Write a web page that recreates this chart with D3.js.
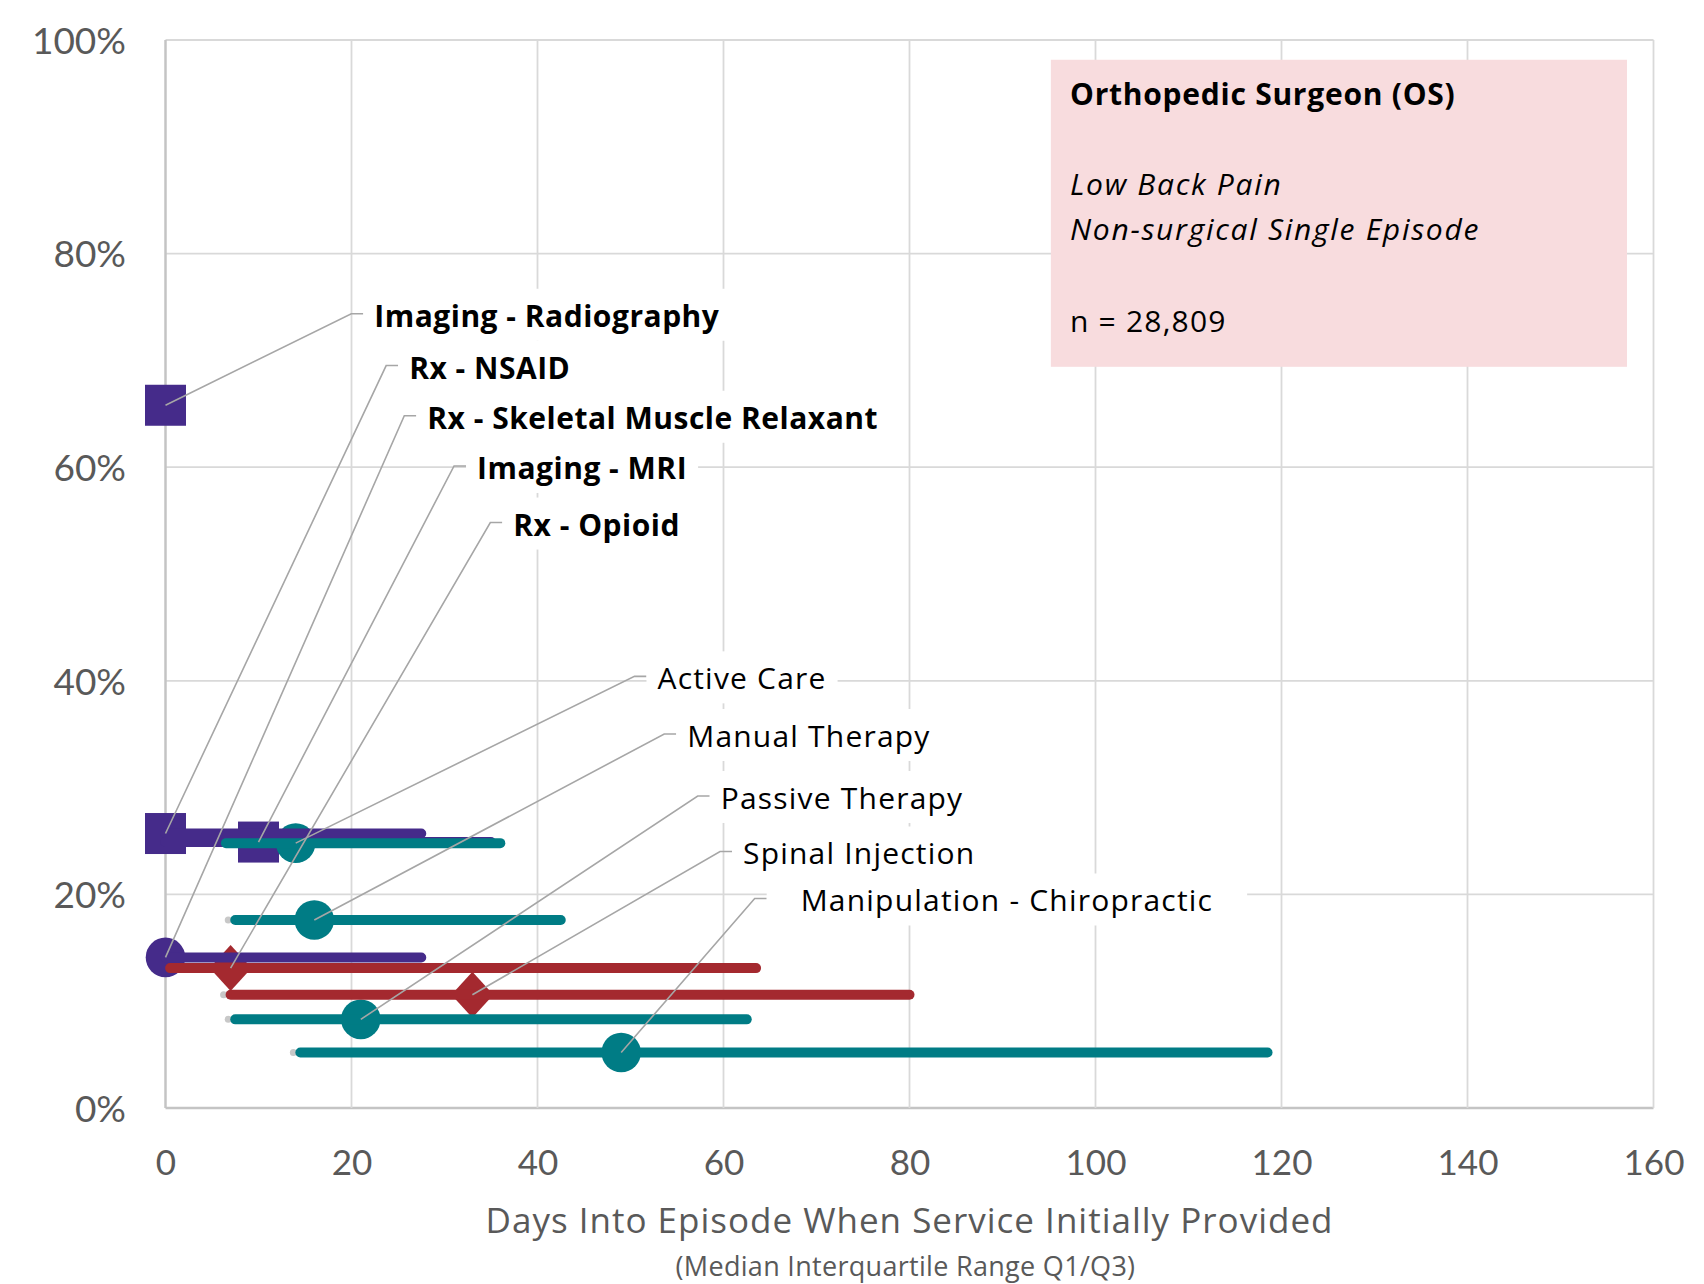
<!DOCTYPE html>
<html>
<head>
<meta charset="utf-8">
<script src="https://cdn.jsdelivr.net/npm/d3@7"></script>
<style>
  body { margin: 0; background: #fff; }
  svg { display: block; font-family: "Open Sans", Lato, sans-serif; }
</style>
</head>
<body>
<div id="chart"></div>
<script>
// services, in the order Excel drew them
const services = ["Imaging - Radiography", "Rx - NSAID", "Rx - Skeletal Muscle Relaxant", "Imaging - MRI", "Rx - Opioid",
                  "Active Care", "Manual Therapy", "Passive Therapy", "Spinal Injection", "Manipulation - Chiropractic"];
const pctPatients = [65.8, 25.7, 14.1, 24.9, 13.1, 24.8, 17.6, 8.3, 10.6, 5.2];   // % of episodes with service
const medianDays = [0, 0, 0, 10, 7, 14, 16, 21, 33, 49];
const q1Days     = [0, 0, 0, 0, 0.5, 6.5, 7.5, 7.5, 7, 14.5];
const q3Days     = [0, 27.5, 27.5, 35, 63.5, 36, 42.5, 62.5, 80, 118.5];
const groups     = ["purple", "purple", "purple", "purple", "red", "teal", "teal", "teal", "red", "teal"];
const markers    = ["square", "square", "circle", "square", "diamond", "circle", "circle", "circle", "diamond", "circle"];
const boldLabel  = [true, true, true, true, true, false, false, false, false, false];

const xTicks = [0, 20, 40, 60, 80, 100, 120, 140, 160];
const yTicks = [0, 20, 40, 60, 80, 100];

const infoLines = ["Orthopedic Surgeon (OS)", "", "Low Back Pain", "Non-surgical Single Episode", "", "n = 28,809"];

// label anchors in data units (days, %) - where the text starts / sits on its baseline
const labelDays = [22.45, 26.2, 28.15, 33.5, 37.4, 52.9, 56.1, 59.7, 62.1, 68.3];
const labelPct  = [73.15, 68.3, 63.6, 58.9, 53.6, 39.2, 33.8, 28.0, 22.8, 18.4];
const labelGap  = [11, 11, 11, 11, 11, 11, 11, 11, 11, 34];

const colors = {purple: "#452b8a", red: "#a4292f", teal: "#007c85"};

const W = 1704, H = 1284;
const svg = d3.select("#chart").append("svg").attr("width", W).attr("height", H);

const x = d3.scaleLinear().domain([0, 160]).range([165.5, 1653.5]);
const y = d3.scaleLinear().domain([0, 100]).range([1108, 40]);

// grid
const grid = svg.append("g");
grid.selectAll(".hgrid").data(yTicks).enter().append("line")
    .attr("x1", x(0)).attr("x2", x(160))
    .attr("y1", d => y(d)).attr("y2", d => y(d))
    .attr("stroke", d => d === 0 ? "#c4c4c4" : "#d9d9d9").attr("stroke-width", d => d === 0 ? 2.5 : 1.8);
grid.selectAll(".vgrid").data(xTicks).enter().append("line")
    .attr("y1", y(0)).attr("y2", y(100))
    .attr("x1", d => x(d)).attr("x2", d => x(d))
    .attr("stroke", d => d === 0 ? "#c4c4c4" : "#d9d9d9").attr("stroke-width", d => d === 0 ? 2.5 : 1.8);

// axis ticks labels
const xAxis = d3.axisBottom(x).tickValues(xTicks).tickSize(0).tickPadding(0);
const xg = svg.append("g").attr("transform", "translate(0,1175)").call(xAxis);
xg.select(".domain").remove();
xg.selectAll("text").attr("dy", 0).attr("font-size", 35).attr("fill", "#595959").attr("font-family", "Lato");

const yAxis = d3.axisLeft(y).tickValues(yTicks).tickSize(0).tickPadding(0).tickFormat(d => d + "%");
const yg = svg.append("g").attr("transform", "translate(126,0)").call(yAxis);
yg.select(".domain").remove();
yg.selectAll("text").attr("dy", "0.36em").attr("font-size", 37).attr("fill", "#595959").attr("font-family", "Lato");

// axis titles
svg.append("text").attr("x", (x(0) + x(160)) / 2).attr("y", 1233).attr("text-anchor", "middle")
    .attr("font-size", 35).attr("letter-spacing", 1).attr("fill", "#595959")
    .text("Days Into Episode When Service Initially Provided");
svg.append("text").attr("x", (x(0) + x(160)) / 2 - 4).attr("y", 1276).attr("text-anchor", "middle")
    .attr("font-size", 27).attr("fill", "#595959").attr("letter-spacing", 0.3)
    .text("(Median Interquartile Range Q1/Q3)");

// info box
svg.append("rect")
    .attr("x", x(95.2)).attr("y", y(98.15))
    .attr("width", x(157.15) - x(95.2)).attr("height", y(69.4) - y(98.15))
    .attr("fill", "#f8dcde");
const infoY = [105, 150, 195, 240, 286, 332];
svg.append("g").selectAll("text").data(infoLines).enter().append("text")
    .attr("x", 1070).attr("y", (d, i) => infoY[i])
    .attr("font-size", 30).attr("fill", "#000")
    .attr("font-weight", (d, i) => i === 0 ? "bold" : "normal")
    .attr("font-style", (d, i) => (i === 2 || i === 3) ? "italic" : "normal")
    .attr("letter-spacing", (d, i) => i === 0 ? 0.75 : (i === 2 || i === 3) ? 1.7 : 1.2)
    .text(d => d);

const rows = services.map((name, i) => ({
    name: name, pct: pctPatients[i], med: medianDays[i], q1: q1Days[i], q3: q3Days[i],
    color: colors[groups[i]], shape: markers[i], bold: boldLabel[i],
    lx: labelDays[i], ly: labelPct[i], gap: labelGap[i]
}));

// markers first (Excel put the IQR lines over them)
const markerSize = 41;
const marks = svg.append("g");
rows.forEach((d) => {
    const cx = x(d.med), cy = y(d.pct);
    if (d.shape === "square") {
        marks.append("rect").attr("x", cx - markerSize / 2).attr("y", cy - markerSize / 2)
            .attr("width", markerSize).attr("height", markerSize).attr("fill", d.color);
    } else if (d.shape === "circle") {
        marks.append("circle").attr("cx", cx).attr("cy", cy).attr("r", 19.8).attr("fill", d.color);
    } else {
        marks.append("path")
            .attr("d", `M${cx},${cy - 23}L${cx + 21},${cy}L${cx},${cy + 23}L${cx - 21},${cy}Z`)
            .attr("fill", d.color);
    }
});

// small grey stubs at the start of some ranges
const stubs = rows.filter(d => d.q1 >= 7);
svg.append("g").selectAll("circle").data(stubs).enter().append("circle")
    .attr("cx", d => x(d.q1) - 7).attr("cy", d => y(d.pct))
    .attr("r", 3.5).attr("fill", "#c8c8c8");

// IQR bars on top
svg.append("g").selectAll("line").data(rows.filter(d => d.q3 > d.q1)).enter().append("line")
    .attr("x1", d => x(d.q1)).attr("x2", d => x(d.q3))
    .attr("y1", d => y(d.pct)).attr("y2", d => y(d.pct))
    .attr("stroke", d => d.color).attr("stroke-width", 10).attr("stroke-linecap", "round");

// labels with white boxes and leader lines
const labelG = svg.append("g");
const texts = rows.map((d) => {
    return labelG.append("text")
        .attr("x", x(d.lx)).attr("y", y(d.ly))
        .attr("font-size", 30).attr("fill", "#000")
        .attr("font-weight", d.bold ? "bold" : "normal")
        .attr("letter-spacing", d.bold ? 0.5 : 1.2)
        .text(d.name);
});
rows.forEach((d, i) => {
    const bb = texts[i].node().getBBox();
    const tx = x(d.lx), ty = y(d.ly);
    labelG.insert("rect", "text")
        .attr("x", tx - d.gap).attr("y", ty - 38)
        .attr("width", bb.width + 2 * d.gap).attr("height", 52)
        .attr("fill", "#fff");
});
const leaders = svg.append("g");
rows.forEach((d) => {
    const tx = x(d.lx), ly = y(d.ly) - 13;
    const tickEnd = tx - d.gap, corner = tickEnd - 12;
    leaders.append("path")
        .attr("d", `M${x(d.med)},${y(d.pct)}L${corner},${ly}L${tickEnd},${ly}`)
        .attr("fill", "none").attr("stroke", "#a6a6a6").attr("stroke-width", 1.6);
});
// keep text above leaders
labelG.raise();
</script>
</body>
</html>
